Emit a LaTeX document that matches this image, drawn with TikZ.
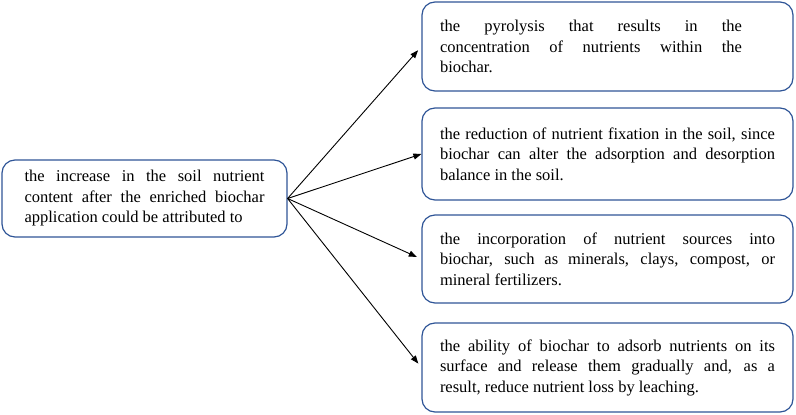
\documentclass[tikz,border=0pt]{standalone}
\usepackage{fontspec}
\setmainfont{Liberation Serif}
\usetikzlibrary{arrows.meta}
\definecolor{boxblue}{HTML}{2F5597}
\begin{document}
\begin{tikzpicture}[x=1pt,y=-1pt,
  roundbox/.style={draw=boxblue,line width=1.2pt,rounded corners=13pt,align=justify,
    font=\fontsize{16.5}{20.5}\selectfont,inner ysep=0pt},
  causebox/.style={roundbox,text width=335pt,minimum width=371pt,inner xsep=18pt},
  arrowline/.style={-{Triangle[length=8pt,width=6pt]},line width=0.9pt}]
\useasboundingbox (0,0) rectangle (796,415);
\node[roundbox,text width=240pt,minimum width=285pt,minimum height=77pt,inner xsep=22.5pt] (incr) at (144.5,198.5)
  {the increase in the soil nutrient\linebreak content after the enriched biochar\linebreak application could be attributed to};
\node[causebox,minimum height=89pt] (pyro) at (607.5,46.5)
  {\noindent\parbox{302pt}{the pyrolysis that results in the\linebreak concentration of nutrients within the\linebreak biochar.}};
\node[causebox,minimum height=92pt] (fix) at (607.5,154)
  {the reduction of nutrient fixation in the soil, since\linebreak biochar can alter the adsorption and desorption\linebreak balance in the soil.};
\node[causebox,minimum height=88pt] (src) at (607.5,259)
  {the incorporation of nutrient sources into\linebreak biochar, such as minerals, clays, compost, or\linebreak mineral fertilizers.};
\node[causebox,minimum height=89pt] (ads) at (607.5,367.5)
  {the ability of biochar to adsorb nutrients on its\linebreak surface and release them gradually and, as a\linebreak result, reduce nutrient loss by leaching.};
\draw[arrowline,shorten >=5pt] (incr.east) -- (pyro.west);
\draw[arrowline] (incr.east) -- (fix.west);
\draw[arrowline,shorten >=5pt] (incr.east) -- (src.west);
\draw[arrowline,shorten >=5pt] (incr.east) -- (ads.west);
\end{tikzpicture}
\end{document}
